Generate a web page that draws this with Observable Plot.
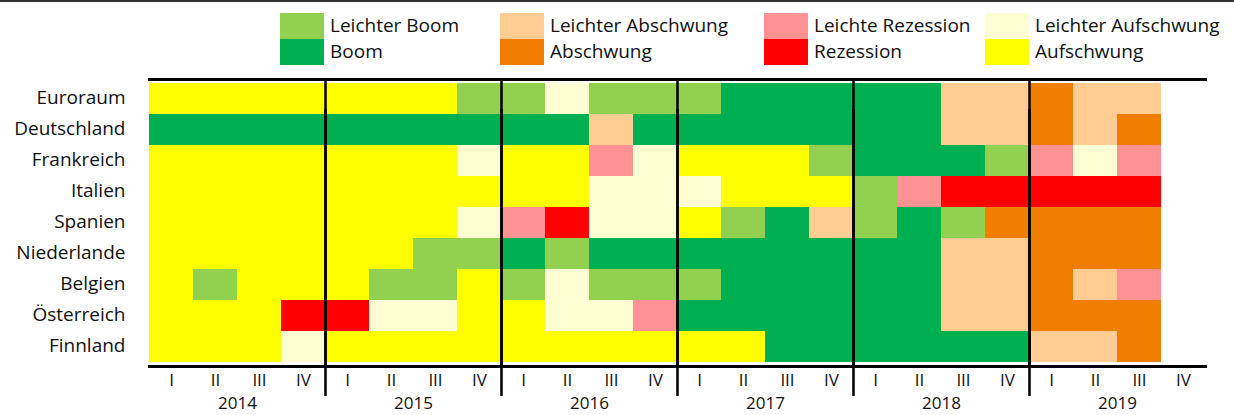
<!DOCTYPE html>
<html><head><meta charset="utf-8">
<script src="https://cdn.jsdelivr.net/npm/d3@7"></script>
<script src="https://cdn.jsdelivr.net/npm/@observablehq/plot@0.6"></script>
<style>
body{margin:0;font-family:"Open Sans","Noto Sans",sans-serif;background:#fff;color:#111;}
#legend{position:relative;height:68px;border-top:2px solid #333;width:1234px;}
.sw{position:absolute;width:44px;height:26px;}
.lt{position:absolute;font-size:19px;line-height:26px;white-space:nowrap;}
</style></head><body>
<div id="legend"></div>
<div id="chart"></div>
<script>
const countries = ["Euroraum","Deutschland","Frankreich","Italien","Spanien","Niederlande","Belgien","Österreich","Finnland"];
const years = [2014, 2015, 2016, 2017, 2018, 2019];
const quarterLabels = ["I","II","III","IV"];
const categories = ["Leichter Boom","Boom","Leichter Abschwung","Abschwung","Leichte Rezession","Rezession","Leichter Aufschwung","Aufschwung"];
const codes = ["b","B","d","D","r","R","a","A"];
const colors = ["#92d050","#00b050","#ffcc92","#f07e00","#ff9393","#ff0000","#ffffd3","#ffff00"];

// one code per quarter from 2014 I (2019 IV has no value)
const euroraum    = ["A","A","A","A","A","A","A","b","b","a","b","b","b","B","B","B","B","B","d","d","D","d","d"];
const deutschland = ["B","B","B","B","B","B","B","B","B","B","d","B","B","B","B","B","B","B","d","d","D","d","D"];
const frankreich  = ["A","A","A","A","A","A","A","a","A","A","r","a","A","A","A","b","B","B","B","b","r","a","r"];
const italien     = ["A","A","A","A","A","A","A","A","A","A","a","a","a","A","A","A","b","r","R","R","R","R","R"];
const spanien     = ["A","A","A","A","A","A","A","a","r","R","a","a","A","b","B","d","b","B","b","D","D","D","D"];
const niederlande = ["A","A","A","A","A","A","b","b","B","b","B","B","B","B","B","B","B","B","d","d","D","D","D"];
const belgien     = ["A","b","A","A","A","b","b","A","b","a","b","b","b","B","B","B","B","B","d","d","D","d","r"];
const oesterreich = ["A","A","A","R","R","a","a","A","A","a","a","r","B","B","B","B","B","B","d","d","D","D","D"];
const finnland    = ["A","A","A","a","A","A","A","A","A","A","A","A","A","A","B","B","B","B","B","B","d","d","D"];

const series = [euroraum, deutschland, frankreich, italien, spanien, niederlande, belgien, oesterreich, finnland];

const cells = [];
series.forEach((arr, ci) => arr.forEach((c, qi) => {
  cells.push({country: countries[ci], q: qi, phase: categories[codes.indexOf(c)]});
}));
const quarters = [];
years.forEach((y, yi) => quarterLabels.forEach((l, li) => quarters.push({q: yi * 4 + li, label: l})));
const yearItems = years.map((y, yi) => ({year: y, q: yi * 4}));

// legend
const lg = document.getElementById("legend");
const colLeft = [280, 500, 764, 985];
categories.forEach((c, i) => {
  const col = Math.floor(i / 2), row = i % 2;
  const sw = document.createElement("div");
  sw.className = "sw"; sw.style.left = colLeft[col] + "px"; sw.style.top = (11 + row * 26) + "px";
  sw.style.background = colors[i];
  const t = document.createElement("div");
  t.className = "lt"; t.style.left = (colLeft[col] + 50) + "px"; t.style.top = (10 + row * 26) + "px";
  t.textContent = c;
  lg.appendChild(sw); lg.appendChild(t);
});

const nQ = years.length * quarterLabels.length;
const chart = Plot.plot({
  width: 1234,
  height: 345,
  marginTop: 9,
  marginBottom: 49,
  marginLeft: 149,
  marginRight: 29,
  style: {fontFamily: "'Open Sans', 'Noto Sans', sans-serif", color: "#111", background: "#fff"},
  x: {domain: [0, nQ], axis: null},
  y: {domain: countries, padding: 0, label: null},
  color: {domain: categories, range: colors, type: "ordinal"},
  marks: [
    Plot.barX(cells, {x1: "q", x2: d => d.q + 1, y: "country", fill: "phase", inset: 0}),
    Plot.axisY({tickSize: 0, tickPadding: 24, fontSize: 19, label: null, dy: -1.5}),
    Plot.frame({anchor: "top", stroke: "#000", strokeWidth: 3}),
    Plot.frame({anchor: "bottom", stroke: "#000", strokeWidth: 3}),
    Plot.ruleX(yearItems.slice(1), {x: "q", stroke: "#000", strokeWidth: 2.5}),
    Plot.ruleX(yearItems.slice(1), {x: "q", stroke: "#000", strokeWidth: 2.5, dy: 30}),
    Plot.text(quarters, {x: d => d.q + 0.5, text: "label", frameAnchor: "bottom", lineAnchor: "middle", dy: 14, fontSize: 17, fill: "#111"}),
    Plot.text(yearItems, {x: d => d.q + 2, text: d => String(d.year), frameAnchor: "bottom", lineAnchor: "middle", dy: 37, fontSize: 17, fill: "#111"})
  ]
});
document.getElementById("chart").appendChild(chart);
</script>
</body></html>
